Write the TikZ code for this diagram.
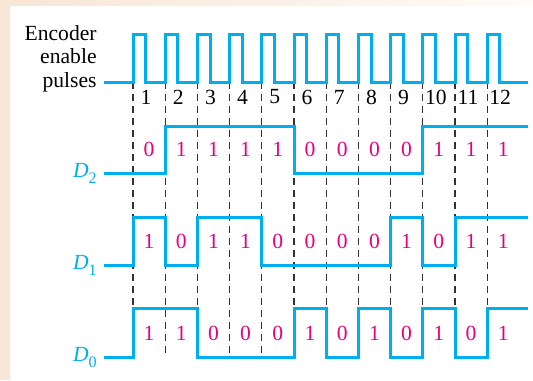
\documentclass[tikz,border=0pt]{standalone}
\usepackage{fontspec}
\setmainfont{Liberation Serif}
\usepackage{tikz}

\definecolor{wavecyan}{RGB}{0,174,239}
\definecolor{bitpink}{RGB}{232,0,128}
\definecolor{peach}{RGB}{248,230,214}
\definecolor{guidegray}{RGB}{50,50,50}
\newcommand{\signame}[1]{\textit{D}\raisebox{-3pt}{\fontsize{8}{9}\selectfont #1}}

\begin{document}
\begin{tikzpicture}[x=0.5pt,y=-0.5pt,
  wave/.style={wavecyan,line width=1.5pt,line join=miter},
  guide/.style={guidegray,line width=0.6pt,dash pattern=on 3.6pt off 2.4pt},
  bit/.style={bitpink,font=\fontsize{10.8}{12}\selectfont,inner sep=0pt},
  slot/.style={font=\fontsize{10.8}{12}\selectfont,inner sep=0pt},
  sig/.style={wavecyan,font=\fontsize{10.8}{12}\selectfont,anchor=base east,inner sep=0pt}]
\useasboundingbox (0,0) rectangle (533,380);
% peach frame strips on the left and top edges
\fill[peach] (0,0) rectangle (10,380);
\shade[left color=peach,right color=peach!15] (10,0) rectangle (533,5);
% dashed guides under every enable pulse
\foreach \k in {1,...,12}
  \draw[guide] ({100.8+32.2*\k},82) -- ({100.8+32.2*\k},357);
% enable pulses
\draw[wave] (104,82) \foreach \k in {1,...,12} {-- ({100.8+32.2*\k},82) -- ++(0,-48) -- ++(12.6,0) -- ++(0,48)} -- (528,82);
% D2, D1, D0 waveforms
\draw[wave] (104,173) -- (165.2,173) -- (165.2,126) -- (294,126) -- (294,173) -- (422.8,173) -- (422.8,126) -- (528,126);
\draw[wave] (104,265) -- (133,265) -- (133,217) -- (165.2,217) -- (165.2,265) -- (197.4,265) -- (197.4,217) -- (261.8,217) -- (261.8,265)
  -- (390.6,265) -- (390.6,217) -- (422.8,217) -- (422.8,265) -- (455,265) -- (455,217) -- (528,217);
\draw[wave] (104,357) -- (133,357) -- (133,308) -- (197.4,308) -- (197.4,357) -- (294,357) -- (294,308) -- (326.2,308) -- (326.2,357)
  -- (358.4,357) -- (358.4,308) -- (390.6,308) -- (390.6,357) -- (422.8,357) -- (422.8,308) -- (455,308) -- (455,357)
  -- (487.2,357) -- (487.2,308) -- (528,308);
% labels
\node[anchor=east,align=right,inner sep=0pt,font=\fontsize{10.8}{11.75}\selectfont] (enc) at (97,58.7) {Encoder\\enable\\pulses};
\node[sig] (dtwo) at (97,177) {\signame{2}};
\node[sig] (done) at (97,269.5) {\signame{1}};
\node[sig] (dzero) at (97,361) {\signame{0}};
\foreach \k in {1,...,12}
  \node[slot] (n\k) at ({113.8+32.2*\k},97) {\k};
\foreach \b [count=\k] in {0,1,1,1,1,0,0,0,0,1,1,1}
  \node[bit] (btwo\k) at ({116.8+32.2*\k},149.7) {\b};
\foreach \b [count=\k] in {1,0,1,1,0,0,0,0,1,0,1,1}
  \node[bit] (bone\k) at ({116.8+32.2*\k},241.3) {\b};
\foreach \b [count=\k] in {1,1,0,0,0,1,0,1,0,1,0,1}
  \node[bit] (bzero\k) at ({116.8+32.2*\k},333.3) {\b};
\end{tikzpicture}
\end{document}
